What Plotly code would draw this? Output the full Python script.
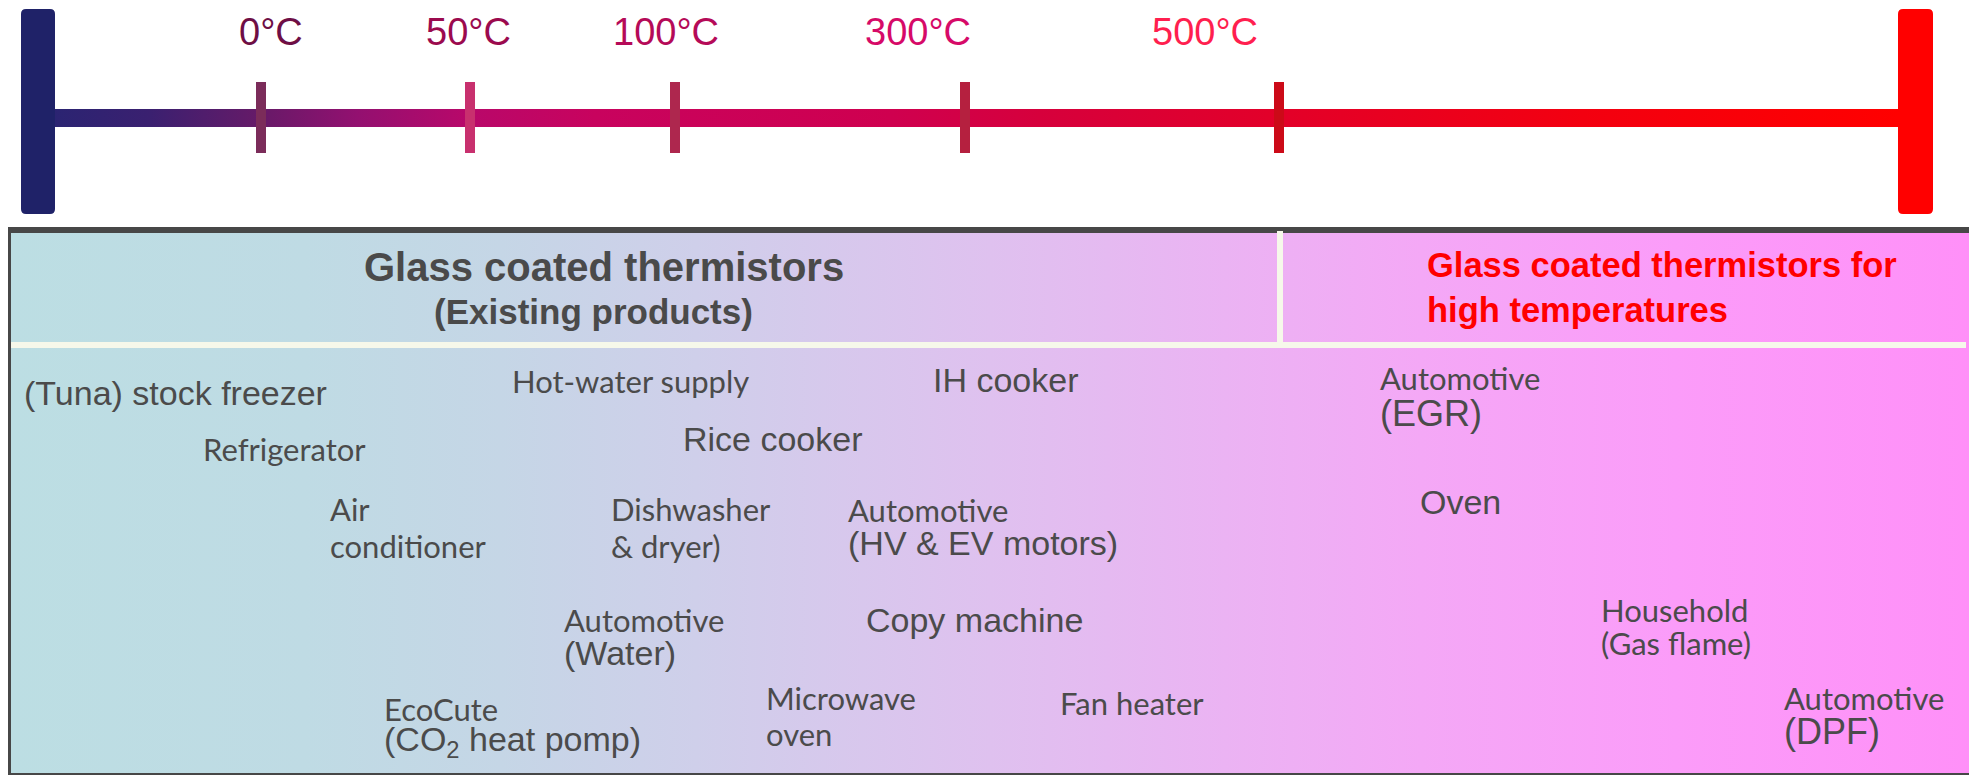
import plotly.graph_objects as go

W, H = 1977, 775
OFF = 8  # default page body margin; axes are shifted so data units equal page pixels

# ---------------- data ----------------
temp_labels = ["0°C", "50°C", "100°C", "300°C", "500°C"]
temp_tick_x = [261, 470, 675, 965, 1279]
temp_label_x = [271, 468, 666, 918, 1205]
temp_label_colors = ["#6e0e45", "#9b0a4e", "#b50a58", "#d60a68", "#ff1f4f"]
temp_tick_colors = ["#7b2c5a", "#c8306e", "#ae274e", "#b5203f", "#cc0a18"]

existing_title = ["Glass coated thermistors", "(Existing products)"]
high_title = ["Glass coated thermistors for", "high temperatures"]

apps_line1 = ["(Tuna) stock freezer", "Refrigerator", "Air", "Hot-water supply",
              "Rice cooker", "IH cooker", "Dishwasher", "Automotive", "Automotive",
              "Copy machine", "EcoCute", "Microwave", "Fan heater", "Automotive",
              "Oven", "Household", "Automotive"]
apps_line2 = ["", "", "conditioner", "", "", "", "& dryer)", "(HV & EV motors)",
              "(Water)", "", "(CO<sub>2</sub> heat pomp)", "oven", "", "(EGR)", "",
              "(Gas flame)", "(DPF)"]

# ---------------- layout constants ----------------
app_left = [22, 201, 328, 510, 681, 931, 609, 846, 562, 864, 382, 764, 1058, 1378, 1418, 1599, 1782]
app_y1 = [393, 450, 510, 382, 439, 380, 510, 511, 621, 620, 712, 699, 704, 379, 502, 611, 699]
app_y2 = [None, None, 547, None, None, None, 547, 543, 653, None, 741, 735, None, 413, None, 644, 731]
style1 = ["A", "C", "C", "C", "A", "A", "C", "C", "C", "A", "C", "C", "C", "C", "A", "C", "C"]
style2 = ["", "", "C", "", "", "", "C", "A", "A", "", "A", "C", "", "AB", "", "C", "AB"]

TEXT = "#4b4b4b"
ARIAL = "Liberation Sans, Arial, sans-serif"
# family, size, cap-center ratio, ascent, descent
FONTS = {
    "A": ("Liberation Sans", 34, 0.358, 0.905, 0.212),
    "AB": ("Liberation Sans", 36, 0.358, 0.905, 0.212),
    "C": ("Lato", 31, 0.3585, 0.987, 0.213),
}

bar_scale = [[0.0, "#2b2472"], [0.051, "#3a2070"], [0.111, "#661a68"], [0.164, "#931070"],
             [0.223, "#b8086a"], [0.293, "#c8035e"], [0.454, "#cf004f"], [0.534, "#d6003c"],
             [0.658, "#e2002a"], [0.829, "#f30010"], [1.0, "#ff0000"]]
box_scale = [[0.0, "#bcdee3"], [0.15, "#bfdbe4"], [0.25, "#c5d6e6"], [0.35, "#cfcfea"],
             [0.5, "#dfc1ef"], [0.62, "#ebb3f3"], [0.72, "#f4a8f6"], [0.85, "#fb9cf9"],
             [1.0, "#ff90f8"]]


def rrect(x0, y0, x1, y1, r):
    return (f"M{x0+r},{y0} L{x1-r},{y0} Q{x1},{y0} {x1},{y0+r} L{x1},{y1-r} "
            f"Q{x1},{y1} {x1-r},{y1} L{x0+r},{y1} Q{x0},{y1} {x0},{y1-r} "
            f"L{x0},{y0+r} Q{x0},{y0} {x0+r},{y0} Z")


def rect_trace(x0, y0, x1, y1, scale):
    return go.Scatter(x=[x0, x1, x1, x0, x0], y=[y0, y0, y1, y1, y0], mode="lines",
                      fill="toself", line=dict(width=0),
                      fillgradient=dict(type="horizontal", colorscale=scale),
                      hoverinfo="skip", showlegend=False)


def span(txt, key):
    fam, size = FONTS[key][0], FONTS[key][1]
    return f'<span style="font-family:{fam};font-size:{size}px">{txt}</span>'


fig = go.Figure()
fig.add_trace(rect_trace(11, 233, 1969, 773, box_scale))
fig.add_trace(rect_trace(55, 109, 1898, 127, bar_scale))

shapes = []
shapes.append(dict(type="rect", x0=5, x1=1977, y0=227, y1=775, fillcolor="#474747",
                   line=dict(width=0), layer="below"))
shapes.append(dict(type="rect", x0=11, x1=1966, y0=342, y1=348, fillcolor="#f6f8ea",
                   line=dict(width=0), layer="above"))
shapes.append(dict(type="rect", x0=1277, x1=1283, y0=231, y1=342, fillcolor="#f6f8ea",
                   line=dict(width=0), layer="above"))
shapes.append(dict(type="path", path=rrect(21, 9, 55, 214, 5), fillcolor="#1f2268",
                   line=dict(width=0), layer="above"))
shapes.append(dict(type="path", path=rrect(1898, 9, 1933, 214, 5), fillcolor="#ff0000",
                   line=dict(width=0), layer="above"))
for tx, tc in zip(temp_tick_x, temp_tick_colors):
    shapes.append(dict(type="rect", x0=tx - 5, x1=tx + 5, y0=82, y1=153, fillcolor=tc,
                       line=dict(width=0), layer="above"))

annotations = []
for lab, lx, lc in zip(temp_labels, temp_label_x, temp_label_colors):
    annotations.append(dict(x=lx, y=32, text=lab, showarrow=False, xanchor="center",
                            yanchor="middle", font=dict(family=ARIAL, size=38, color=lc)))

annotations.append(dict(x=604, y=267, text=f"<b>{existing_title[0]}</b>", showarrow=False,
                        xanchor="center", yanchor="middle",
                        font=dict(family=ARIAL, size=40, color="#4a4a4a")))
annotations.append(dict(x=593, y=311, text=f"<b>{existing_title[1]}</b>", showarrow=False,
                        xanchor="center", yanchor="middle",
                        font=dict(family=ARIAL, size=35, color="#4a4a4a")))
for txt, yy in zip(high_title, [265, 310]):
    annotations.append(dict(x=1425, y=yy, text=f"<b>{txt}</b>", showarrow=False,
                            xanchor="left", yanchor="middle",
                            font=dict(family=ARIAL, size=34.5, color="#ff0000")))

# application labels (one text block per application)
for i in range(len(apps_line1)):
    fam1, s1, c1, a1, d1 = FONTS[style1[i]]
    base1 = app_y1[i] + c1 * s1
    if apps_line2[i]:
        fam2, s2, c2, a2, d2 = FONTS[style2[i]]
        base2 = app_y2[i] + c2 * s2
        line_h = (base2 - base1) / 1.3
        text = span(apps_line1[i], style1[i]) + "<br>" + span(apps_line2[i], style2[i])
        yc = ((base1 - a1 * s1) + (base2 + d2 * s2)) / 2
        annotations.append(dict(x=app_left[i], y=yc, text=text, showarrow=False,
                                xanchor="left", yanchor="middle", align="left",
                                font=dict(family=fam1, size=line_h, color=TEXT)))
    else:
        yc = base1 - (a1 - d1) / 2 * s1
        annotations.append(dict(x=app_left[i], y=yc, text=apps_line1[i], showarrow=False,
                                xanchor="left", yanchor="middle", align="left",
                                font=dict(family=fam1, size=s1, color=TEXT)))

fig.update_layout(
    width=W - OFF, height=H - OFF, margin=dict(l=0, r=0, t=0, b=0),
    paper_bgcolor="white", plot_bgcolor="white",
    xaxis=dict(range=[OFF, W], visible=False, fixedrange=True),
    yaxis=dict(range=[H, OFF], visible=False, fixedrange=True),
    shapes=shapes, annotations=annotations, showlegend=False,
)

fig.write_html("out.html")
